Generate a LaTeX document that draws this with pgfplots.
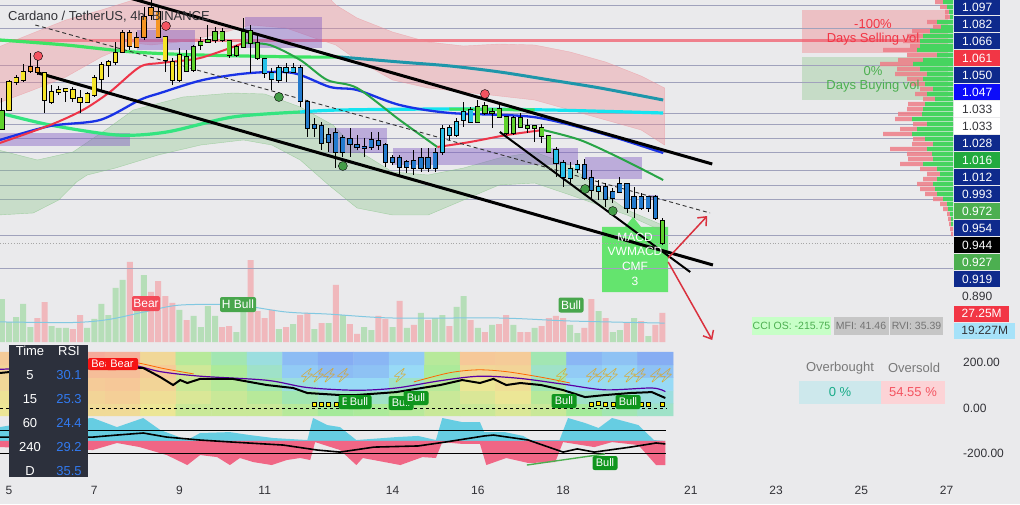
\documentclass[border=0pt]{standalone}
\usepackage{fontspec}
\setmainfont{Liberation Sans}
\newfontfamily\emojifont{Noto Emoji}
\usepackage{pgfplots}
\usepackage{pgfplotstable}
\pgfplotsset{compat=1.18}
\usetikzlibrary{arrows.meta}

\definecolor{bgc}{RGB}{234,234,236}
\definecolor{levelc}{RGB}{160,162,188}
\definecolor{cY}{RGB}{245,228,40}
\definecolor{cO}{RGB}{245,150,35}
\definecolor{cG}{RGB}{95,210,45}
\definecolor{cC}{RGB}{40,192,232}
\definecolor{cB}{RGB}{35,122,205}
\definecolor{pinkb}{RGB}{238,140,148}
\definecolor{greenb}{RGB}{130,195,130}
\definecolor{purb}{RGB}{126,87,194}
\definecolor{emar}{RGB}{238,52,72}
\definecolor{emag}{RGB}{40,165,70}
\definecolor{emab}{RGB}{25,50,230}
\definecolor{thickg}{RGB}{60,228,100}
\definecolor{teal}{RGB}{30,150,170}
\definecolor{aqua}{RGB}{20,228,240}
\definecolor{volG}{RGB}{182,222,184}
\definecolor{volR}{RGB}{240,184,188}
\definecolor{volma}{RGB}{130,200,225}
\definecolor{profG}{RGB}{70,212,95}
\definecolor{profR}{RGB}{238,125,135}
\definecolor{navyL}{RGB}{14,42,140}
\definecolor{redL}{RGB}{242,54,69}
\definecolor{blueL}{RGB}{12,12,250}
\definecolor{greenL}{RGB}{34,170,62}
\definecolor{greenLL}{RGB}{76,175,80}
\definecolor{darkt}{RGB}{50,50,55}
\definecolor{sigc}{RGB}{100,228,110}
\definecolor{cyanarea}{RGB}{80,200,225}
\definecolor{redarea}{RGB}{242,80,115}
\definecolor{tablec}{RGB}{44,48,60}
\definecolor{rsiblue}{RGB}{50,122,240}
\definecolor{bullc}{RGB}{16,150,30}
\definecolor{bearc}{RGB}{245,20,20}
\definecolor{boltc}{RGB}{232,160,0}

\newcommand\fs[1]{\fontsize{#1}{#1}\selectfont}

\pgfplotsset{
  ebar/.style={draw=none, forget plot,
    error bars/y dir=plus, error bars/y explicit, error bars/error mark=none,
    error bars/error bar style={#1}},
}

% 4h candles: wicks (high, low)
\pgfplotstableread{
i h l
0 1.089 1.057
1 1.107 1.076
2 1.112 1.102
3 1.123 1.105
4 1.134 1.114
5 1.127 1.112
6 1.114 1.074
7 1.102 1.083
8 1.101 1.092
9 1.099 1.085
10 1.100 1.085
11 1.097 1.074
12 1.095 1.084
13 1.112 1.090
14 1.125 1.097
15 1.127 1.110
16 1.145 1.122
17 1.157 1.134
18 1.157 1.137
19 1.155 1.139
20 1.180 1.147
21 1.187 1.167
22 1.180 1.149
23 1.150 1.115
24 1.129 1.102
25 1.139 1.105
26 1.137 1.115
27 1.142 1.115
28 1.150 1.137
29 1.162 1.144
30 1.160 1.144
31 1.159 1.145
32 1.147 1.129
33 1.142 1.130
34 1.169 1.139
35 1.162 1.114
36 1.152 1.127
37 1.129 1.109
38 1.119 1.097
39 1.122 1.104
40 1.124 1.105
41 1.124 1.114
42 1.122 1.080
43 1.087 1.050
44 1.069 1.050
45 1.065 1.037
46 1.059 1.035
47 1.059 1.019
48 1.052 1.030
49 1.059 1.030
50 1.052 1.037
51 1.049 1.030
52 1.055 1.037
53 1.055 1.037
54 1.044 1.020
55 1.032 1.022
56 1.032 1.012
57 1.027 1.014
58 1.037 1.012
59 1.039 1.015
60 1.039 1.015
61 1.039 1.015
62 1.062 1.032
63 1.062 1.047
64 1.069 1.050
65 1.085 1.060
66 1.080 1.065
67 1.087 1.064
68 1.085 1.072
69 1.079 1.059
70 1.082 1.069
71 1.071 1.052
72 1.071 1.052
73 1.074 1.059
74 1.068 1.054
75 1.062 1.045
76 1.063 1.044
77 1.052 1.034
78 1.040 1.010
79 1.027 1.000
80 1.025 1.002
81 1.027 1.014
82 1.028 1.007
83 1.017 0.989
84 1.007 0.987
85 1.004 0.980
86 0.999 0.984
87 1.010 0.994
88 1.004 0.974
89 1.000 0.969
90 0.994 0.977
91 0.991 0.975
92 0.992 0.967
93 0.969 0.942
}\wicks

% candle bodies (top, bottom), one table per bar colour
\pgfplotstableread{
i bt bb
1 1.105 1.077
2 1.109 1.105
3 1.115 1.107
6 1.114 1.087
7 1.095 1.085
8 1.097 1.095
9 1.098 1.096
10 1.097 1.089
11 1.089 1.085
12 1.093 1.085
13 1.109 1.092
14 1.122 1.108
15 1.125 1.122
16 1.134 1.125
23 1.150 1.127
24 1.125 1.107
25 1.132 1.107
}\bodyY
\pgfplotstableread{
i bt bb
4 1.120 1.116
5 1.119 1.115
17 1.154 1.135
18 1.154 1.141
19 1.149 1.140
20 1.170 1.150
21 1.179 1.172
22 1.175 1.150
}\bodyO
\pgfplotstableread{
i bt bb
0 1.076 1.058
26 1.130 1.116
27 1.140 1.117
28 1.145 1.142
29 1.147 1.145
30 1.155 1.147
31 1.155 1.147
32 1.146 1.132
33 1.140 1.132
34 1.155 1.140
35 1.156 1.144
36 1.144 1.129
67 1.080 1.065
68 1.081 1.074
69 1.075 1.074
70 1.078 1.070
71 1.070 1.054
72 1.069 1.054
73 1.069 1.060
74 1.061 1.059
75 1.061 1.059
76 1.059 1.051
77 1.051 1.035
93 0.966 0.944
}\bodyG
\pgfplotstableread{
i bt bb
37 1.128 1.114
38 1.114 1.108
39 1.119 1.107
40 1.119 1.115
41 1.119 1.115
62 1.058 1.035
63 1.059 1.052
64 1.065 1.052
65 1.075 1.067
66 1.077 1.065
78 1.037 1.024
79 1.024 1.010
80 1.018 1.009
81 1.022 1.018
84 1.000 0.996
}\bodyC
\pgfplotstableread{
i bt bb
42 1.119 1.086
43 1.085 1.059
44 1.062 1.059
45 1.061 1.044
46 1.052 1.045
47 1.054 1.035
48 1.049 1.035
49 1.048 1.043
50 1.042 1.040
51 1.040 1.039
52 1.047 1.040
53 1.046 1.042
54 1.042 1.025
55 1.029 1.025
56 1.029 1.020
57 1.025 1.020
58 1.026 1.019
59 1.029 1.019
60 1.029 1.019
61 1.034 1.019
82 1.022 1.009
83 1.009 0.997
85 1.000 0.988
86 0.995 0.989
87 1.003 0.995
88 1.003 0.979
89 0.990 0.979
90 0.990 0.979
91 0.990 0.979
92 0.990 0.969
}\bodyB

% volume (millions), up and down bars
\pgfplotstableread{
i v
0 14.3
1 6.7
2 8.3
3 12.7
4 5.0
7 5.3
8 4.7
9 4.7
12 4.7
13 7.7
14 12.7
15 9.0
16 18.0
17 20.7
19 14.0
20 22.3
25 10.7
27 8.7
28 5.0
29 12.0
30 8.7
33 3.3
34 11.7
39 4.3
41 6.0
44 4.3
46 6.3
48 9.0
51 5.0
52 4.0
55 5.0
57 4.7
59 9.7
61 8.0
62 9.0
64 11.7
65 15.3
67 4.7
69 5.7
72 5.7
75 4.7
80 5.7
81 3.0
84 10.3
86 3.3
87 4.0
89 8.0
91 2.0
}\volup
\pgfplotstableread{
i v
5 8.0
6 13.3
10 4.3
11 9.0
18 26.7
21 16.7
22 20.3
23 15.3
24 13.0
26 7.3
31 5.0
32 5.3
35 27.3
36 10.3
37 8.0
38 10.7
40 5.0
42 9.0
43 9.7
45 6.3
47 19.0
49 6.0
50 2.7
53 8.7
54 7.7
56 13.7
58 5.7
60 7.3
63 5.3
66 7.3
68 3.3
70 6.0
71 9.0
73 3.3
74 3.3
76 5.3
77 8.0
78 8.7
79 8.0
82 4.7
83 14.3
85 8.0
88 6.3
90 7.0
92 5.7
93 9.7
}\voldown

% volume profile rows (pixel row, buy length, sell length)
\pgfplotstableread{
y g r
2 10 8
7 6 7
12 4 4
17 3 5
22 16 10
27 12 8
31 23 18
36 30 16
41 33 17
46 33 10
50 36 34
55 16 30
60 30 25
64 40 33
69 33 23
74 26 32
79 30 16
84 28 15
89 20 13
94 26 12
99 18 12
104 28 17
109 30 16
114 31 24
119 41 17
124 26 14
129 36 17
134 41 29
139 28 12
144 20 21
149 26 37
154 21 25
159 20 25
164 30 23
169 16 17
174 13 13
179 16 14
184 20 16
189 18 15
194 16 12
199 10 10
204 6 7
209 5 5
214 3 3
219 2 3
224 2 2
229 0 3
234 0 2
}\profile

% RSI heat map (cells of five candles, five rows)
\pgfplotstableread{
x y c
2 -7 0.60
7 -7 0.60
12 -7 0.68
17 -7 0.68
22 -7 0.60
27 -7 0.50
32 -7 0.50
37 -7 0.50
42 -7 0.45
47 -7 0.40
52 -7 0.42
57 -7 0.45
62 -7 0.50
67 -7 0.50
72 -7 0.55
77 -7 0.50
82 -7 0.40
87 -7 0.35
92 -7 0.30
2 49 0.62
7 49 0.65
12 49 0.72
17 49 0.75
22 49 0.65
27 49 0.55
32 49 0.50
37 49 0.45
42 49 0.35
47 49 0.30
52 49 0.30
57 49 0.40
62 49 0.50
67 49 0.55
72 49 0.60
77 49 0.45
82 49 0.30
87 49 0.30
92 49 0.25
2 105 0.70
7 105 0.70
12 105 0.78
17 105 0.80
22 105 0.72
27 105 0.50
32 105 0.45
37 105 0.35
42 105 0.25
47 105 0.20
52 105 0.20
57 105 0.30
62 105 0.45
67 105 0.60
72 105 0.65
77 105 0.35
82 105 0.20
87 105 0.22
92 105 0.20
2 162 0.72
7 162 0.75
12 162 0.85
17 162 0.85
22 162 0.78
27 162 0.52
32 162 0.42
37 162 0.30
42 162 0.15
47 162 0.10
52 162 0.12
57 162 0.20
62 162 0.42
67 162 0.70
72 162 0.72
77 162 0.30
82 162 0.15
87 162 0.18
92 162 0.12
2 218 0.78
7 218 0.82
12 218 0.95
17 218 0.92
22 218 0.70
27 218 0.45
32 218 0.35
37 218 0.25
42 218 0.10
47 218 0.05
52 218 0.08
57 218 0.15
62 218 0.45
67 218 0.80
72 218 0.78
77 218 0.35
82 218 0.08
87 218 0.12
92 218 0.05
}\heat

\begin{document}
\begin{tikzpicture}
\path[use as bounding box] (0,0) rectangle (1020pt,504pt);
\fill[bgc] (0,0) rectangle (1020pt,504pt);

% ---------- pixel-space backdrop (y runs downwards) ----------
\begin{scope}[shift={(0pt,504pt)}, x=1pt, y=-1pt]
  \fill[pinkb!45!bgc] (802,10) rectangle (948,53);
  \fill[greenb!35!bgc] (802,57) rectangle (948,100);
  \fill[sigc] (602,227) -- (625,227) -- (633,217) -- (641,227) -- (668,227)
     -- (668,292) -- (602,292) -- cycle;
\end{scope}

% ---------- volume ----------
\begin{axis}[at={(0pt,162pt)}, anchor=south west, scale only axis,
  width=953pt, height=342pt, xmin=-0.27, xmax=133.9, ymin=0, ymax=114,
  axis lines=none]
  \addplot [ybar, bar width=6pt, bar shift=0pt, fill=volG, draw=none] table [x=i, y=v] {\volup};
  \addplot [ybar, bar width=6pt, bar shift=0pt, fill=volR, draw=none] table [x=i, y=v] {\voldown};
  \addplot [volma, line width=1pt, smooth] coordinates {
    (-0.3,6.7) (10,6.5) (15,7.5) (20,10) (25,12.3) (33,12.3) (40,10) (46,9.3)
    (55,8) (70,8) (80,7) (93.3,6.3)};
\end{axis}

% ---------- price pane ----------
\begin{axis}[at={(0pt,162pt)}, anchor=south west, scale only axis,
  width=953pt, height=342pt, xmin=-0.27, xmax=133.9, ymin=0.845, ymax=1.187,
  axis lines=none]

  \pgfplotsinvokeforeach{1.182,1.159,1.122,1.105,1.074,1.063,1.049,1.035,1.017,1.002,0.988,0.952,0.919}{
    \addplot [levelc, line width=0.8pt] coordinates {(-0.3,#1) (134,#1)};}
  \addplot [gray!70, line width=0.8pt, dotted] coordinates {(-0.3,0.944) (134,0.944)};
  \addplot [emar!80, opacity=0.75, line width=3pt] coordinates {(-0.3,1.146) (129.3,1.146)};

  % upper (pink) envelope
  \addplot [fill=pinkb, fill opacity=0.38, draw=pinkb, draw opacity=0.5] coordinates {
    (-0.5,1.140) (4.4,1.154) (9,1.167) (14,1.177) (18.5,1.187) (21,1.197) (45,1.197)
    (47,1.182) (50,1.169) (55,1.155) (60,1.145) (65,1.141) (70,1.143) (75,1.142)
    (80,1.135) (85,1.125) (90,1.111) (93.3,1.099)
    (93.3,1.042) (90,1.057) (85,1.067) (80,1.077) (75,1.087) (70,1.091) (65,1.095)
    (60,1.099) (55,1.107) (50,1.127) (47,1.142) (44,1.149) (40,1.159) (35,1.162)
    (30,1.152) (25,1.145) (21,1.142) (18.5,1.144) (14,1.130) (9,1.110) (4.4,1.097)
    (-0.5,1.084)} -- cycle;
  % lower (green) envelope
  \addplot [fill=greenb, fill opacity=0.32, draw=greenb, draw opacity=0.6] coordinates {
    (-0.5,1.037) (5,1.027) (10,1.035) (15,1.059) (18.5,1.077) (25.5,1.090) (32.5,1.094)
    (37,1.093) (42,1.080) (46.6,1.062) (50,1.037) (55,1.015) (60,1.012) (65,1.019)
    (70,1.029) (75,1.035) (80,1.022) (84,0.997) (88,0.977) (93.3,0.961)
    (93.3,0.955) (88,0.972) (84,0.982) (80,0.992) (75,1.004) (70,1.002) (65,0.987)
    (60,0.972) (55,0.972) (50,0.979) (46,1.002) (42,1.027) (38,1.042) (34,1.047)
    (28,1.042) (22,1.032) (16,1.019) (12,1.012) (10.5,1.005) (8,0.987) (4.4,0.974)
    (-0.5,0.972)} -- cycle;

  % zones
  \addplot [fill=purb, fill opacity=0.42, draw=none] coordinates {(-0.5,1.054) (18,1.054) (18,1.041) (-0.5,1.041)} -- cycle;
  \addplot [fill=purb, fill opacity=0.42, draw=none] coordinates {(19,1.157) (27.2,1.157) (27.2,1.137) (19,1.137)} -- cycle;
  \addplot [fill=purb, fill opacity=0.42, draw=none] coordinates {(34.2,1.170) (45.1,1.170) (45.1,1.139) (34.2,1.139)} -- cycle;
  \addplot [fill=purb, fill opacity=0.42, draw=none] coordinates {(46,1.059) (54.2,1.059) (54.2,1.034) (46,1.034)} -- cycle;
  \addplot [fill=purb, fill opacity=0.42, draw=none] coordinates {(55,1.039) (81.1,1.039) (81.1,1.022) (55,1.022)} -- cycle;
  \addplot [fill=purb, fill opacity=0.42, draw=none] coordinates {(82.1,1.030) (90.1,1.030) (90.1,1.008) (82.1,1.008)} -- cycle;
  \addplot [fill=purb, fill opacity=0.42, draw=none] coordinates {(91,0.992) (92.4,0.992) (92.4,0.987) (91,0.987)} -- cycle;

  % moving averages
  \addplot [thickg, line width=3.2pt, smooth] coordinates {
    (-0.3,1.147) (9,1.142) (18.5,1.135) (28,1.132) (42,1.130) (47.6,1.130)};
  \addplot [teal, line width=3pt, smooth] coordinates {
    (47.6,1.130) (56,1.125) (63.1,1.121) (70.1,1.115) (77.2,1.107) (84.2,1.099) (93.1,1.087)};
  \addplot [thickg!80!aqua, line width=3.2pt, smooth] coordinates {
    (-0.3,1.074) (6.8,1.062) (16.2,1.052) (23.2,1.055) (32.5,1.070) (42,1.075)};
  \addplot [aqua, line width=3.2pt, smooth] coordinates {
    (42,1.075) (47.6,1.077) (63.1,1.078) (77.2,1.077) (93.1,1.074)};
  \addplot [thickg, line width=3pt] coordinates {(63,1.078) (75,1.077)};
  \addplot [emab, line width=2.3pt, smooth] coordinates {
    (-0.3,1.047) (6.8,1.061) (13.8,1.067) (19.4,1.087) (22.3,1.094) (28.3,1.107)
    (35,1.114) (41,1.114) (46.2,1.100) (50,1.097) (56,1.082) (63.1,1.074)
    (74.8,1.070) (84.2,1.054) (93.1,1.034)};
  \addplot [emar, line width=2pt, smooth] coordinates {
    (-0.3,1.044) (6.8,1.062) (11.4,1.077) (15.2,1.095) (19.4,1.120) (22.3,1.124)
    (27.9,1.129) (34,1.144)};
  \addplot [emag, line width=2pt, smooth] coordinates {
    (34,1.144) (37.7,1.142) (42,1.127) (45.8,1.107) (50,1.099) (56,1.067) (61.3,1.040)};
  \addplot [emar, line width=2pt, smooth] coordinates {
    (61.3,1.040) (65.9,1.045) (71.1,1.052) (76.2,1.057)};
  \addplot [emag, line width=2pt, smooth] coordinates {
    (76.2,1.057) (81.4,1.047) (87,1.029) (93.1,1.007)};

  % trend lines
  \addplot [black, line width=3pt] coordinates {(18,1.189) (100,1.023)};
  \addplot [black, line width=3pt] coordinates {(5.1,1.114) (100.1,0.922)};
  \addplot [black, line width=2pt] coordinates {(70.1,1.055) (96.9,0.915)};
  \addplot [black!80, line width=0.9pt, dash pattern=on 4pt off 3pt] coordinates {(4.7,1.162) (99.7,0.974)};

  % candles: wicks, outlines, coloured bodies
  \addplot [ebar={line width=0.9pt, draw=black}]
    table [x=i, y=l, y error expr=\thisrow{h}-\thisrow{l}] {\wicks};
  \addplot [ebar={line width=5.2pt, draw=black}]
    table [x=i, y expr=\thisrow{bb}-0.0008, y error expr=\thisrow{bt}-\thisrow{bb}+0.0016] {\bodyY};
  \addplot [ebar={line width=5.2pt, draw=black}]
    table [x=i, y expr=\thisrow{bb}-0.0008, y error expr=\thisrow{bt}-\thisrow{bb}+0.0016] {\bodyO};
  \addplot [ebar={line width=5.2pt, draw=black}]
    table [x=i, y expr=\thisrow{bb}-0.0008, y error expr=\thisrow{bt}-\thisrow{bb}+0.0016] {\bodyG};
  \addplot [ebar={line width=5.2pt, draw=black}]
    table [x=i, y expr=\thisrow{bb}-0.0008, y error expr=\thisrow{bt}-\thisrow{bb}+0.0016] {\bodyC};
  \addplot [ebar={line width=5.2pt, draw=black}]
    table [x=i, y expr=\thisrow{bb}-0.0008, y error expr=\thisrow{bt}-\thisrow{bb}+0.0016] {\bodyB};
  \addplot [ebar={line width=3.6pt, draw=cY}] table [x=i, y=bb, y error expr=\thisrow{bt}-\thisrow{bb}] {\bodyY};
  \addplot [ebar={line width=3.6pt, draw=cO}] table [x=i, y=bb, y error expr=\thisrow{bt}-\thisrow{bb}] {\bodyO};
  \addplot [ebar={line width=3.6pt, draw=cG}] table [x=i, y=bb, y error expr=\thisrow{bt}-\thisrow{bb}] {\bodyG};
  \addplot [ebar={line width=3.6pt, draw=cC}] table [x=i, y=bb, y error expr=\thisrow{bt}-\thisrow{bb}] {\bodyC};
  \addplot [ebar={line width=3.6pt, draw=cB}] table [x=i, y=bb, y error expr=\thisrow{bt}-\thisrow{bb}] {\bodyB};

  % signal dots
  \addplot [only marks, mark=*, mark size=4.5pt, mark options={fill=redL!85, draw=none}]
    coordinates {(5.1,1.131) (23.1,1.161) (68,1.093)};
  \addplot [only marks, mark=*, mark size=4.5pt, mark options={fill=greenLL!90!black, draw=none}]
    coordinates {(39,1.090) (48,1.021) (82.1,0.998) (86,0.976)};

  % projection arrows
  \addplot [redL!90!black, line width=1.5pt, -{Straight Barb[length=7pt,width=12pt]}]
    coordinates {(93.8,0.929) (99.3,0.971)};
  \addplot [redL!90!black, line width=1.5pt, -{Straight Barb[length=7pt,width=12pt]}]
    coordinates {(93.8,0.925) (100,0.847)};
\end{axis}

% ---------- volume profile ----------
\begin{axis}[at={(853pt,162pt)}, anchor=south west, scale only axis,
  width=100pt, height=342pt, xmin=0, xmax=100, x dir=reverse,
  ymin=0, ymax=342, y dir=reverse, axis lines=none, xbar stacked, bar width=4.2pt]
  \addplot [fill=profG, draw=none] table [x=g, y=y] {\profile};
  \addplot [fill=profR, draw=none, fill opacity=0.85] table [x=r, y=y] {\profile};
\end{axis}

% ---------- oscillator pane ----------
\begin{axis}[at={(0pt,26pt)}, anchor=south west, scale only axis,
  width=953pt, height=135pt, xmin=-0.27, xmax=133.9, ymin=-308, ymax=286,
  axis line style={draw=none}, major tick length=0pt,
  xtick={1,13,25,37,55,67,79,97,109,121,133},
  xticklabels={5,7,9,11,14,16,18,21,23,25,27},
  xticklabel style={font=\fs{12}, text=darkt, anchor=center, yshift=-12pt},
  ytick={-200,0,200}, yticklabels={-200.00,0.00,200.00}, yticklabel pos=right,
  yticklabel style={font=\fs{12}, text=darkt, anchor=west, inner sep=0pt, xshift=10pt},
  point meta min=0, point meta max=1,
  colormap={heat}{rgb255=(128,158,242) rgb255=(152,218,246) rgb255=(165,234,155)
    rgb255=(236,230,150) rgb255=(246,200,152) rgb255=(246,160,155)}]

  \addplot [matrix plot*, mesh/cols=19, point meta=explicit] table [meta=c] {\heat};
  \addplot [black, line width=0.8pt, dashed] coordinates {(-0.3,0) (93.6,0)};

  \addplot [orange!80!red, line width=0.8pt, smooth] coordinates {
    (12,190) (17.6,205) (23,172) (27,150)};
  \addplot [orange!80!red, line width=0.8pt, smooth] coordinates {
    (58,115) (63,155) (67,168) (71,160) (76,135) (80,110)};
  \addplot [violet!70!blue, line width=1.2pt, smooth] coordinates {
    (-0.3,170) (10,185) (17.6,192) (22.3,160) (27.9,140) (37.3,122) (43,90) (49.9,78)
    (55.5,88) (61.7,120) (67.3,140) (73,130) (79,105) (84.9,80) (91.5,88) (93.4,72)};
  \addplot [black, line width=2pt] coordinates {
    (-0.3,154) (3.9,167) (17.6,180) (19.9,176) (22.3,136) (24.1,101) (25.1,123)
    (26.1,110) (27.9,128) (32.5,128) (37.3,101) (41,88) (43,66) (47.6,57) (49.9,57)
    (55.5,70) (61.7,101) (64.8,123) (67.3,110) (69.2,128) (71,101) (73,110)
    (75.9,101) (79,79) (82.1,48) (84.9,57) (88.5,66) (91.5,70) (93.4,44)};
  \addplot [only marks, mark=square*, mark size=2pt, mark options={fill=yellow!90!orange, draw=black, line width=0.5pt}]
    coordinates {(44,15) (45,15) (46,18) (47,15) (83,15) (84,20) (85,18) (86,15) (90,15) (91,18) (93,15)};

  % CCI-style area
  \addplot [fill=cyanarea, fill opacity=0.85, draw=none] coordinates {
    (-0.3,-145) (-0.3,-84) (3.9,-62) (12.8,-44) (16.2,-84) (19.9,-44) (22.3,-97)
    (26.1,-141) (27.9,-110) (32.1,-106) (34.9,-119) (38.2,-132) (43,-141) (43.8,-44)
    (45.8,-75) (47.6,-84) (49.9,-141) (55.5,-128) (58.6,-123) (61.1,-141) (62,-44)
    (64.8,-62) (67.3,-62) (67.9,-106) (70.8,-106) (73.4,-123) (74.4,-141) (78.5,-141)
    (79.7,-44) (82.1,-66) (84,-88) (85.9,-44) (89.6,-75) (91.8,-141) (93.4,-145)} -- cycle;
  \addplot [fill=redarea, fill opacity=0.85, draw=none] coordinates {
    (-0.3,-145) (-0.3,-172) (3.9,-176) (12.8,-185) (16.2,-154) (19.4,-172) (23.2,-207)
    (26.1,-251) (27.9,-207) (30.3,-216) (32.1,-251) (33.5,-220) (35.4,-238) (38,-251)
    (40.1,-229) (42,-220) (43.4,-229) (44.1,-150) (47.6,-185) (49.9,-251) (50.8,-220)
    (56.1,-251) (59.2,-216) (61.1,-220) (62,-150) (64.8,-158) (67.3,-158) (68.2,-251)
    (71,-220) (74.1,-242) (77.9,-238) (79,-150) (83.4,-172) (85.9,-150) (89.6,-163)
    (92.1,-251) (93.4,-251) (93.4,-145)} -- cycle;
  \addplot [black, line width=0.7pt] coordinates {(-0.3,-100) (93.5,-100)};
  \addplot [black, line width=0.7pt] coordinates {(-0.3,-200) (93.5,-200)};
  \addplot [black, line width=1.6pt] coordinates {
    (-0.3,-128) (12.8,-128) (16.2,-119) (19.9,-110) (23.2,-128) (27.9,-141) (32.5,-150)
    (39.6,-163) (44.4,-185) (47.6,-194) (52.4,-172) (58.6,-167) (62.4,-150)
    (67.9,-123) (69.2,-119) (74.1,-141) (79,-194) (81,-180) (83.4,-194) (88.5,-172)
    (92.1,-154) (93.4,-158)};
  \addplot [greenLL, line width=1.4pt] coordinates {(73.9,-251) (84.9,-202)};
\end{axis}

% ---------- pixel-space labels ----------
\begin{scope}[shift={(0pt,504pt)}, x=1pt, y=-1pt]
  \node[anchor=west, text=darkt, inner sep=0pt] at (8,17) {\fs{13}Cardano / TetherUS, 4h, BINANCE};

  % signal box text
  \node[text=white, align=center, inner sep=0pt, font=\fontsize{12}{14.6}\selectfont] at (635,259) {MACD\\VWMACD\\CMF\\3};

  % days volume texts
  \node[text=redL, inner sep=0pt] at (873,24) {\fs{13}-100\%};
  \node[text=redL, inner sep=0pt] at (873,39) {\fs{13}Days Selling vol};
  \node[text=greenLL, inner sep=0pt] at (873,71) {\fs{13}0\%};
  \node[text=greenLL, inner sep=0pt] at (873,86) {\fs{13}Days Buying vol};

  % right price labels
  \foreach \k/\t/\bg/\fg in {0/1.097/navyL/white, 1/1.082/navyL/white, 2/1.066/navyL/white,
      3/1.061/redL/white, 4/1.050/navyL/white, 5/1.047/blueL/white, 6/1.033/white/darkt,
      7/1.033/white/darkt, 8/1.028/navyL/white, 9/1.016/greenL/white, 10/1.012/navyL/white,
      11/0.993/navyL/white, 12/0.972/greenLL/white, 13/0.954/navyL/white, 14/0.944/black/white,
      15/0.927/greenLL/white, 16/0.919/navyL/white, 17/0.890/bgc/darkt}{
    \node[fill=\bg, text=\fg, anchor=west, minimum width=46pt, minimum height=16pt, inner sep=0pt]
      at (954,{7.5+17*\k}) {\fs{12}\t};
  }
  \node[fill=redL, text=white, anchor=west, minimum width=55pt, minimum height=16pt, inner sep=0pt]
    at (954,313.5) {\fs{12}27.25M};
  \node[fill=cyan!35!white, text=darkt, anchor=west, minimum width=61pt, minimum height=16pt, inner sep=0pt]
    at (954,330.5) {\fs{12}19.227M};

  % indicator readouts
  \node[fill=green!22!white, text=greenLL, minimum width=79pt, minimum height=18pt, inner sep=0pt]
    at (791.5,326) {\fs{10.5}CCI OS: -215.75};
  \node[fill=gray!45, text=gray!90!black, minimum width=55pt, minimum height=18pt, inner sep=0pt]
    at (861,326) {\fs{10.5}MFI: 41.46};
  \node[fill=gray!45, text=gray!90!black, minimum width=53pt, minimum height=18pt, inner sep=0pt]
    at (916.5,326) {\fs{10.5}RVI: 35.39};

  % overbought / oversold table
  \node[text=gray!95!black, inner sep=0pt] at (840,368) {\fs{13}Overbought};
  \node[text=gray!95!black, inner sep=0pt] at (914,368) {\fs{13}Oversold};
  \node[fill=teal!22!white, text=teal!80!green, minimum width=82pt, minimum height=23pt, inner sep=0pt]
    at (840,392.5) {\fs{13}0 \%};
  \node[fill=redL!22!white, text=redL!85!white, minimum width=64pt, minimum height=23pt, inner sep=0pt]
    at (913,392.5) {\fs{13}54.55 \%};

  % volume pane tags
  \node[fill=redL!90!white, text=white, rounded corners=2pt, minimum width=28pt, minimum height=15pt, inner sep=0pt]
    at (146,303.5) {\fs{12}Bear};
  \node[fill=greenLL!95!black, text=white, rounded corners=2pt, minimum width=36pt, minimum height=15pt, inner sep=0pt]
    at (238,304.5) {\fs{12}H Bull};
  \node[fill=greenLL!95!black, text=white, rounded corners=2pt, minimum width=25pt, minimum height=15pt, inner sep=0pt]
    at (571,305) {\fs{12}Bull};

  % oscillator tags (overlapping pairs as in the source)
  \node[fill=bearc, text=white, rounded corners=2pt, minimum width=30pt, minimum height=12pt, inner sep=0pt]
    at (103,364) {\fs{11}Bear};
  \node[fill=bearc, text=white, rounded corners=2pt, minimum width=32pt, minimum height=12pt, inner sep=0pt]
    at (122,364) {\fs{11}Bear};
  \foreach \x/\y in {351/402, 359/402, 401/403, 416/398, 564/401, 628/402, 605/463}{
    \node[fill=bullc, text=white, rounded corners=2pt, minimum width=25pt, minimum height=14pt, inner sep=0pt]
      at (\x,\y) {\fs{11}Bull};
  }
  \foreach \x in {307,318,329,343,400,562,592,602,612,630,640,656,666}{
    \node[text=boltc, inner sep=0pt] at (\x,376) {\emojifont\fs{14}⚡};
  }

  % RSI table
  \fill[tablec] (9,345) rectangle (88,477);
  \node[text=white, inner sep=0pt] at (30,351) {\fs{13}Time};
  \node[text=white, inner sep=0pt] at (69,351) {\fs{13}RSI};
  \foreach \r/\a/\b in {0/5/30.1, 1/15/25.3, 2/60/24.4, 3/240/29.2, 4/D/35.5}{
    \node[text=white, inner sep=0pt] at (30,{375+24*\r}) {\fs{13}\a};
    \node[text=rsiblue, inner sep=0pt] at (69,{375+24*\r}) {\fs{13}\b};
  }
\end{scope}
\end{tikzpicture}
\end{document}
